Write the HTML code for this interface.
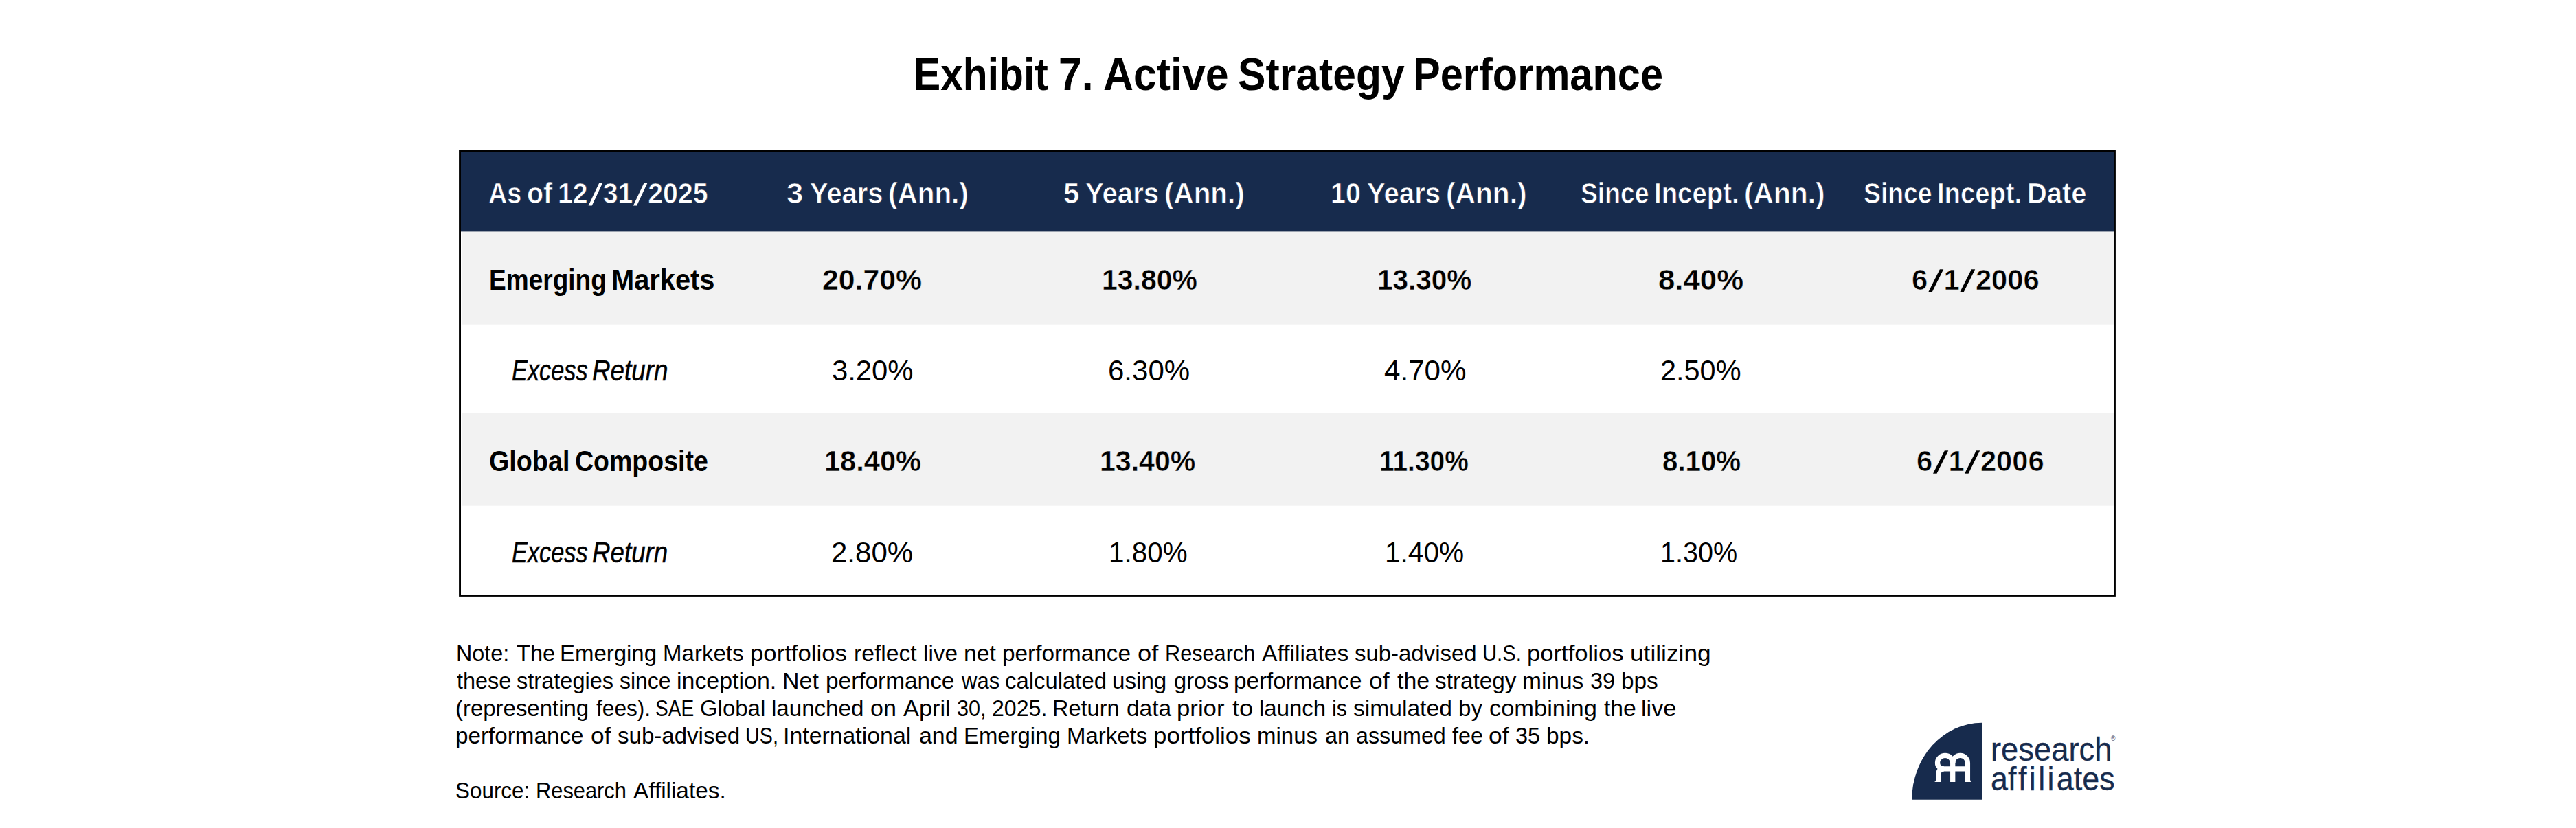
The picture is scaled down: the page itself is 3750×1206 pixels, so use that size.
<!DOCTYPE html>
<html lang="en">
<head>
<meta charset="utf-8">
<title>Exhibit 7. Active Strategy Performance</title>
<style>
html,body{margin:0;padding:0;background:#fff;}
body{width:3750px;height:1206px;position:relative;font-family:"Liberation Sans",Arial,sans-serif;}
.t{position:absolute;white-space:nowrap;line-height:1;transform-origin:0 0;font-size:42.6px;font-family:"Liberation Sans",Arial,sans-serif;}
.g{margin:0;padding:0;}
.sl{display:inline-block;font-style:normal;font-weight:400;margin:0 .14em;transform:translateY(.06em) scale(2.05,1.1)}
.tbl{position:absolute;left:660px;top:210px;width:2430px;height:670px;}
.logo{position:absolute;left:2780px;top:1050px;width:110px;height:118px;}
</style>
</head>
<body>
<svg class="tbl" viewBox="660 210 2430 670">
<rect x="672.1" y="330" width="2404.8" height="142.7" fill="#F2F2F2"/>
<rect x="670" y="220" width="2407.5" height="117.4" fill="#172B4D"/>
<rect x="672.1" y="601.9" width="2404.8" height="134.8" fill="#F2F2F2"/>
<rect x="669.55" y="219.85" width="2408.9" height="647.6" fill="none" stroke="#000" stroke-width="2.9"/>
</svg>
<svg class="logo" viewBox="2780 1050 110 118">
<path d="M2885 1052.8 L2885 1164.7 L2783.2 1164.7 A101.8 111.9 0 0 1 2885 1052.8 Z" fill="#172B4D"/>
<g fill="none" stroke="#fff" stroke-width="7.3" stroke-linejoin="round">
<path d="M2842.7 1139 L2842.7 1109"/>
<path d="M2842.7 1111.2 A10.85 10.85 0 0 1 2864.4 1111.2 L2864.4 1139"/>
<path d="M2842.7 1111.2 A11.1 10.85 0 0 0 2820.5 1111.2 A8.6 8.6 0 0 0 2829.1 1119.8 L2864.4 1119.8"/>
<path d="M2830 1119.8 Q2821.8 1119.8 2821.8 1128.5 L2821.8 1139"/>
</g>
<path d="M2818.2 1139 L2816 1139 Q2818.2 1138.2 2818.2 1135.5 Z M2868 1139 L2869.8 1139 Q2868 1138.2 2868 1135.5 Z" fill="#fff"/>
</svg>
<div style="position:absolute;left:662px;top:445px;width:1px;height:4px;background:#c6c6cc"></div>
<div class="g title">
<span class="t" style="left:1330.38px;top:74.90px;font-size:66.7px;font-weight:700;transform:matrix(0.8807,0.0002,0,1,0,0)">Exhibit </span>
<span class="t" style="left:1541.39px;top:74.90px;font-size:66.7px;font-weight:700;transform:matrix(0.9075,0.0002,0,1,0,0)">7. </span>
<span class="t" style="left:1605.77px;top:74.90px;font-size:66.7px;font-weight:700;transform:matrix(0.9127,0.0002,0,1,0,0)">Active </span>
<span class="t" style="left:1802.48px;top:74.90px;font-size:66.7px;font-weight:700;transform:matrix(0.9096,0.0002,0,1,0,0)">Strategy </span>
<span class="t" style="left:2057.43px;top:74.90px;font-size:66.7px;font-weight:700;transform:matrix(0.8930,0.0002,0,1,0,0)">Performance </span>
</div>
<div class="g h">
<span class="t" style="left:711.12px;top:259.90px;font-size:42.8px;font-weight:700;color:#fff;-webkit-text-stroke:0.7px #172B4D;transform:matrix(0.8837,0.0002,0,1,0,0)">As </span>
<span class="t" style="left:767.38px;top:259.90px;font-size:42.8px;font-weight:700;color:#fff;-webkit-text-stroke:0.7px #172B4D;transform:matrix(0.9212,0.0002,0,1,0,0)">of </span>
<span class="t" style="left:811.96px;top:259.90px;font-size:42.8px;font-weight:700;color:#fff;-webkit-text-stroke:0.7px #172B4D;transform:matrix(0.9183,0.0002,0,1,0,0)">12<i class="sl">/</i>31<i class="sl">/</i>2025 </span>
<span class="t" style="left:1145.48px;top:259.90px;font-size:42.8px;font-weight:700;color:#fff;-webkit-text-stroke:0.7px #172B4D;transform:matrix(1.0183,0.0002,0,1,0,0)">3 </span>
<span class="t" style="left:1178.97px;top:259.90px;font-size:42.8px;font-weight:700;color:#fff;-webkit-text-stroke:0.7px #172B4D;transform:matrix(0.9323,0.0002,0,1,0,0)">Years </span>
<span class="t" style="left:1292.91px;top:259.90px;font-size:42.8px;font-weight:700;color:#fff;-webkit-text-stroke:0.7px #172B4D;transform:matrix(0.9450,0.0002,0,1,0,0)">(Ann.) </span>
<span class="t" style="left:1547.92px;top:259.90px;font-size:42.8px;font-weight:700;color:#fff;-webkit-text-stroke:0.7px #172B4D;transform:matrix(0.9786,0.0002,0,1,0,0)">5 </span>
<span class="t" style="left:1580.06px;top:259.90px;font-size:42.8px;font-weight:700;color:#fff;-webkit-text-stroke:0.7px #172B4D;transform:matrix(0.9372,0.0002,0,1,0,0)">Years </span>
<span class="t" style="left:1694.61px;top:259.90px;font-size:42.8px;font-weight:700;color:#fff;-webkit-text-stroke:0.7px #172B4D;transform:matrix(0.9442,0.0002,0,1,0,0)">(Ann.) </span>
<span class="t" style="left:1937.26px;top:259.90px;font-size:42.8px;font-weight:700;color:#fff;-webkit-text-stroke:0.7px #172B4D;transform:matrix(0.9223,0.0002,0,1,0,0)">10 </span>
<span class="t" style="left:1990.36px;top:259.90px;font-size:42.8px;font-weight:700;color:#fff;-webkit-text-stroke:0.7px #172B4D;transform:matrix(0.9372,0.0002,0,1,0,0)">Years </span>
<span class="t" style="left:2104.90px;top:259.90px;font-size:42.8px;font-weight:700;color:#fff;-webkit-text-stroke:0.7px #172B4D;transform:matrix(0.9508,0.0002,0,1,0,0)">(Ann.) </span>
<span class="t" style="left:2301.13px;top:259.90px;font-size:42.8px;font-weight:700;color:#fff;-webkit-text-stroke:0.7px #172B4D;transform:matrix(0.8711,0.0002,0,1,0,0)">Since </span>
<span class="t" style="left:2407.51px;top:259.90px;font-size:42.8px;font-weight:700;color:#fff;-webkit-text-stroke:0.7px #172B4D;transform:matrix(0.8958,0.0002,0,1,0,0)">Incept. </span>
<span class="t" style="left:2539.00px;top:259.90px;font-size:42.8px;font-weight:700;color:#fff;-webkit-text-stroke:0.7px #172B4D;transform:matrix(0.9508,0.0002,0,1,0,0)">(Ann.) </span>
<span class="t" style="left:2713.03px;top:259.90px;font-size:42.8px;font-weight:700;color:#fff;-webkit-text-stroke:0.7px #172B4D;transform:matrix(0.8727,0.0002,0,1,0,0)">Since </span>
<span class="t" style="left:2819.61px;top:259.90px;font-size:42.8px;font-weight:700;color:#fff;-webkit-text-stroke:0.7px #172B4D;transform:matrix(0.8931,0.0002,0,1,0,0)">Incept. </span>
<span class="t" style="left:2950.73px;top:259.90px;font-size:42.8px;font-weight:700;color:#fff;-webkit-text-stroke:0.7px #172B4D;transform:matrix(0.9333,0.0002,0,1,0,0)">Date </span>
</div>
<div class="g r1">
<span class="t" style="left:711.86px;top:386.20px;font-weight:700;transform:matrix(0.8696,0.0002,0,1,0,0)">Emerging </span>
<span class="t" style="left:890.33px;top:386.20px;font-weight:700;transform:matrix(0.9344,0.0002,0,1,0,0)">Markets </span>
<span class="t" style="left:1196.80px;top:386.20px;font-weight:700;-webkit-text-stroke:0.4px #F2F2F2;transform:matrix(1.0035,0.0002,0,1,0,0)">20.70% </span>
<span class="t" style="left:1604.08px;top:386.20px;font-weight:700;-webkit-text-stroke:0.4px #F2F2F2;transform:matrix(0.9613,0.0002,0,1,0,0)">13.80% </span>
<span class="t" style="left:2004.90px;top:386.20px;font-weight:700;-webkit-text-stroke:0.4px #F2F2F2;transform:matrix(0.9507,0.0002,0,1,0,0)">13.30% </span>
<span class="t" style="left:2414.27px;top:386.20px;font-weight:700;-webkit-text-stroke:0.4px #F2F2F2;transform:matrix(1.0277,0.0002,0,1,0,0)">8.40% </span>
<span class="t" style="left:2783.42px;top:386.20px;font-weight:700;-webkit-text-stroke:0.6px #F2F2F2;transform:matrix(0.9791,0.0002,0,1,0,0)">6<i class="sl">/</i>1<i class="sl">/</i>2006 </span>
</div>
<div class="g r2">
<span class="t" style="left:744.59px;top:518.00px;font-style:italic;-webkit-text-stroke:0.5px #000;transform:matrix(0.8055,0.0002,0,1,0,0)">Excess </span>
<span class="t" style="left:862.34px;top:518.00px;font-style:italic;-webkit-text-stroke:0.5px #000;transform:matrix(0.8648,0.0002,0,1,0,0)">Return </span>
<span class="t" style="left:1210.54px;top:518.00px;transform:matrix(0.9814,0.0002,0,1,0,0)">3.20% </span>
<span class="t" style="left:1613.23px;top:518.00px;transform:matrix(0.9864,0.0002,0,1,0,0)">6.30% </span>
<span class="t" style="left:2015.41px;top:518.00px;transform:matrix(0.9891,0.0002,0,1,0,0)">4.70% </span>
<span class="t" style="left:2416.55px;top:518.00px;transform:matrix(0.9729,0.0002,0,1,0,0)">2.50% </span>
</div>
<div class="g r3">
<span class="t" style="left:711.91px;top:650.30px;font-weight:700;transform:matrix(0.8857,0.0002,0,1,0,0)">Global </span>
<span class="t" style="left:837.22px;top:650.30px;font-weight:700;transform:matrix(0.8803,0.0002,0,1,0,0)">Composite </span>
<span class="t" style="left:1199.75px;top:650.30px;font-weight:700;-webkit-text-stroke:0.4px #F2F2F2;transform:matrix(0.9761,0.0002,0,1,0,0)">18.40% </span>
<span class="t" style="left:1601.27px;top:650.30px;font-weight:700;-webkit-text-stroke:0.4px #F2F2F2;transform:matrix(0.9641,0.0002,0,1,0,0)">13.40% </span>
<span class="t" style="left:2008.37px;top:650.30px;font-weight:700;-webkit-text-stroke:0.4px #F2F2F2;transform:matrix(0.9129,0.0002,0,1,0,0)">11.30% </span>
<span class="t" style="left:2419.85px;top:650.30px;font-weight:700;-webkit-text-stroke:0.4px #F2F2F2;transform:matrix(0.9454,0.0002,0,1,0,0)">8.10% </span>
<span class="t" style="left:2789.52px;top:650.30px;font-weight:700;-webkit-text-stroke:0.6px #F2F2F2;transform:matrix(0.9786,0.0002,0,1,0,0)">6<i class="sl">/</i>1<i class="sl">/</i>2006 </span>
</div>
<div class="g r4">
<span class="t" style="left:744.59px;top:783.00px;font-style:italic;-webkit-text-stroke:0.5px #000;transform:matrix(0.8055,0.0002,0,1,0,0)">Excess </span>
<span class="t" style="left:862.34px;top:783.00px;font-style:italic;-webkit-text-stroke:0.5px #000;transform:matrix(0.8624,0.0002,0,1,0,0)">Return </span>
<span class="t" style="left:1209.73px;top:783.00px;transform:matrix(0.9864,0.0002,0,1,0,0)">2.80% </span>
<span class="t" style="left:1613.55px;top:783.00px;transform:matrix(0.9487,0.0002,0,1,0,0)">1.80% </span>
<span class="t" style="left:2015.64px;top:783.00px;transform:matrix(0.9530,0.0002,0,1,0,0)">1.40% </span>
<span class="t" style="left:2416.82px;top:783.00px;transform:matrix(0.9282,0.0002,0,1,0,0)">1.30% </span>
</div>
<div class="g n1">
<span class="t" style="left:663.58px;top:935.00px;font-size:33.7px;transform:matrix(0.9600,0.0002,0,1,0,0)">Note: </span>
<span class="t" style="left:751.80px;top:935.00px;font-size:33.7px;transform:matrix(0.9669,0.0002,0,1,0,0)">The </span>
<span class="t" style="left:815.04px;top:935.00px;font-size:33.7px;transform:matrix(0.9781,0.0002,0,1,0,0)">Emerging </span>
<span class="t" style="left:965.24px;top:935.00px;font-size:33.7px;transform:matrix(0.9808,0.0002,0,1,0,0)">Markets </span>
<span class="t" style="left:1091.84px;top:935.00px;font-size:33.7px;transform:matrix(1.0310,0.0002,0,1,0,0)">portfolios </span>
<span class="t" style="left:1242.50px;top:935.00px;font-size:33.7px;transform:matrix(0.9988,0.0002,0,1,0,0)">reflect </span>
<span class="t" style="left:1343.52px;top:935.00px;font-size:33.7px;transform:matrix(0.9878,0.0002,0,1,0,0)">live </span>
<span class="t" style="left:1402.70px;top:935.00px;font-size:33.7px;transform:matrix(0.9980,0.0002,0,1,0,0)">net </span>
<span class="t" style="left:1458.82px;top:935.00px;font-size:33.7px;transform:matrix(0.9889,0.0002,0,1,0,0)">performance </span>
<span class="t" style="left:1656.02px;top:935.00px;font-size:33.7px;transform:matrix(1.0780,0.0002,0,1,0,0)">of </span>
<span class="t" style="left:1695.68px;top:935.00px;font-size:33.7px;transform:matrix(0.9104,0.0002,0,1,0,0)">Research </span>
<span class="t" style="left:1837.30px;top:935.00px;font-size:33.7px;transform:matrix(0.9972,0.0002,0,1,0,0)">Affiliates </span>
<span class="t" style="left:1972.02px;top:935.00px;font-size:33.7px;transform:matrix(0.9774,0.0002,0,1,0,0)">sub-advised </span>
<span class="t" style="left:2157.97px;top:935.00px;font-size:33.7px;transform:matrix(0.8665,0.0002,0,1,0,0)">U.S. </span>
<span class="t" style="left:2222.54px;top:935.00px;font-size:33.7px;transform:matrix(1.0276,0.0002,0,1,0,0)">portfolios </span>
<span class="t" style="left:2372.61px;top:935.00px;font-size:33.7px;transform:matrix(1.0472,0.0002,0,1,0,0)">utilizing </span>
</div>
<div class="g n2">
<span class="t" style="left:664.60px;top:974.70px;font-size:33.7px;transform:matrix(0.9620,0.0002,0,1,0,0)">these </span>
<span class="t" style="left:751.93px;top:974.70px;font-size:33.7px;transform:matrix(0.9663,0.0002,0,1,0,0)">strategies </span>
<span class="t" style="left:902.15px;top:974.70px;font-size:33.7px;transform:matrix(0.9486,0.0002,0,1,0,0)">since </span>
<span class="t" style="left:984.59px;top:974.70px;font-size:33.7px;transform:matrix(1.0066,0.0002,0,1,0,0)">inception. </span>
<span class="t" style="left:1139.18px;top:974.70px;font-size:33.7px;transform:matrix(1.0080,0.0002,0,1,0,0)">Net </span>
<span class="t" style="left:1201.52px;top:974.70px;font-size:33.7px;transform:matrix(0.9910,0.0002,0,1,0,0)">performance </span>
<span class="t" style="left:1400.20px;top:974.70px;font-size:33.7px;transform:matrix(0.9208,0.0002,0,1,0,0)">was </span>
<span class="t" style="left:1463.02px;top:974.70px;font-size:33.7px;transform:matrix(0.9753,0.0002,0,1,0,0)">calculated </span>
<span class="t" style="left:1619.13px;top:974.70px;font-size:33.7px;transform:matrix(0.9843,0.0002,0,1,0,0)">using </span>
<span class="t" style="left:1708.63px;top:974.70px;font-size:33.7px;transform:matrix(0.9678,0.0002,0,1,0,0)">gross </span>
<span class="t" style="left:1796.43px;top:974.70px;font-size:33.7px;transform:matrix(0.9859,0.0002,0,1,0,0)">performance </span>
<span class="t" style="left:1993.05px;top:974.70px;font-size:33.7px;transform:matrix(1.0513,0.0002,0,1,0,0)">of </span>
<span class="t" style="left:2033.50px;top:974.70px;font-size:33.7px;transform:matrix(1.0051,0.0002,0,1,0,0)">the </span>
<span class="t" style="left:2089.01px;top:974.70px;font-size:33.7px;transform:matrix(0.9883,0.0002,0,1,0,0)">strategy </span>
<span class="t" style="left:2215.71px;top:974.70px;font-size:33.7px;transform:matrix(0.9945,0.0002,0,1,0,0)">minus </span>
<span class="t" style="left:2315.44px;top:974.70px;font-size:33.7px;transform:matrix(0.9647,0.0002,0,1,0,0)">39 </span>
<span class="t" style="left:2359.62px;top:974.70px;font-size:33.7px;transform:matrix(0.9902,0.0002,0,1,0,0)">bps </span>
</div>
<div class="g n3">
<span class="t" style="left:662.84px;top:1014.80px;font-size:33.7px;transform:matrix(0.9780,0.0002,0,1,0,0)">(representing </span>
<span class="t" style="left:868.10px;top:1014.80px;font-size:33.7px;transform:matrix(0.9388,0.0002,0,1,0,0)">fees). </span>
<span class="t" style="left:954.33px;top:1014.80px;font-size:33.7px;transform:matrix(0.8347,0.0002,0,1,0,0)">SAE </span>
<span class="t" style="left:1019.12px;top:1014.80px;font-size:33.7px;transform:matrix(0.9779,0.0002,0,1,0,0)">Global </span>
<span class="t" style="left:1122.54px;top:1014.80px;font-size:33.7px;transform:matrix(0.9821,0.0002,0,1,0,0)">launched </span>
<span class="t" style="left:1266.99px;top:1014.80px;font-size:33.7px;transform:matrix(1.0095,0.0002,0,1,0,0)">on </span>
<span class="t" style="left:1315.30px;top:1014.80px;font-size:33.7px;transform:matrix(1.0199,0.0002,0,1,0,0)">April </span>
<span class="t" style="left:1392.69px;top:1014.80px;font-size:33.7px;transform:matrix(0.9091,0.0002,0,1,0,0)">30, </span>
<span class="t" style="left:1443.75px;top:1014.80px;font-size:33.7px;transform:matrix(0.9532,0.0002,0,1,0,0)">2025. </span>
<span class="t" style="left:1532.07px;top:1014.80px;font-size:33.7px;transform:matrix(0.9657,0.0002,0,1,0,0)">Return </span>
<span class="t" style="left:1639.71px;top:1014.80px;font-size:33.7px;transform:matrix(0.9940,0.0002,0,1,0,0)">data </span>
<span class="t" style="left:1713.14px;top:1014.80px;font-size:33.7px;transform:matrix(1.0316,0.0002,0,1,0,0)">prior </span>
<span class="t" style="left:1794.40px;top:1014.80px;font-size:33.7px;transform:matrix(1.0780,0.0002,0,1,0,0)">to </span>
<span class="t" style="left:1832.85px;top:1014.80px;font-size:33.7px;transform:matrix(0.9775,0.0002,0,1,0,0)">launch </span>
<span class="t" style="left:1939.20px;top:1014.80px;font-size:33.7px;transform:matrix(0.9022,0.0002,0,1,0,0)">is </span>
<span class="t" style="left:1970.40px;top:1014.80px;font-size:33.7px;transform:matrix(0.9977,0.0002,0,1,0,0)">simulated </span>
<span class="t" style="left:2122.64px;top:1014.80px;font-size:33.7px;transform:matrix(0.9808,0.0002,0,1,0,0)">by </span>
<span class="t" style="left:2167.68px;top:1014.80px;font-size:33.7px;transform:matrix(1.0219,0.0002,0,1,0,0)">combining </span>
<span class="t" style="left:2335.20px;top:1014.80px;font-size:33.7px;transform:matrix(0.9998,0.0002,0,1,0,0)">the </span>
<span class="t" style="left:2389.37px;top:1014.80px;font-size:33.7px;transform:matrix(1.0170,0.0002,0,1,0,0)">live </span>
</div>
<div class="g n4">
<span class="t" style="left:662.83px;top:1054.60px;font-size:33.7px;transform:matrix(0.9864,0.0002,0,1,0,0)">performance </span>
<span class="t" style="left:859.55px;top:1054.60px;font-size:33.7px;transform:matrix(1.0459,0.0002,0,1,0,0)">of </span>
<span class="t" style="left:898.82px;top:1054.60px;font-size:33.7px;transform:matrix(0.9810,0.0002,0,1,0,0)">sub-advised </span>
<span class="t" style="left:1085.49px;top:1054.60px;font-size:33.7px;transform:matrix(0.8529,0.0002,0,1,0,0)">US, </span>
<span class="t" style="left:1140.09px;top:1054.60px;font-size:33.7px;transform:matrix(1.0047,0.0002,0,1,0,0)">International </span>
<span class="t" style="left:1337.80px;top:1054.60px;font-size:33.7px;transform:matrix(1.0048,0.0002,0,1,0,0)">and </span>
<span class="t" style="left:1402.75px;top:1054.60px;font-size:33.7px;transform:matrix(0.9762,0.0002,0,1,0,0)">Emerging </span>
<span class="t" style="left:1552.64px;top:1054.60px;font-size:33.7px;transform:matrix(0.9785,0.0002,0,1,0,0)">Markets </span>
<span class="t" style="left:1678.93px;top:1054.60px;font-size:33.7px;transform:matrix(1.0358,0.0002,0,1,0,0)">portfolios </span>
<span class="t" style="left:1830.34px;top:1054.60px;font-size:33.7px;transform:matrix(0.9794,0.0002,0,1,0,0)">minus </span>
<span class="t" style="left:1928.54px;top:1054.60px;font-size:33.7px;transform:matrix(0.9605,0.0002,0,1,0,0)">an </span>
<span class="t" style="left:1973.54px;top:1054.60px;font-size:33.7px;transform:matrix(0.9564,0.0002,0,1,0,0)">assumed </span>
<span class="t" style="left:2114.20px;top:1054.60px;font-size:33.7px;transform:matrix(0.9589,0.0002,0,1,0,0)">fee </span>
<span class="t" style="left:2167.05px;top:1054.60px;font-size:33.7px;transform:matrix(1.0486,0.0002,0,1,0,0)">of </span>
<span class="t" style="left:2206.44px;top:1054.60px;font-size:33.7px;transform:matrix(0.9647,0.0002,0,1,0,0)">35 </span>
<span class="t" style="left:2250.62px;top:1054.60px;font-size:33.7px;transform:matrix(0.9915,0.0002,0,1,0,0)">bps. </span>
</div>
<div class="g n5">
<span class="t" style="left:662.74px;top:1134.70px;font-size:33.7px;transform:matrix(0.9324,0.0002,0,1,0,0)">Source: </span>
<span class="t" style="left:779.77px;top:1134.70px;font-size:33.7px;transform:matrix(0.9150,0.0002,0,1,0,0)">Research </span>
<span class="t" style="left:922.10px;top:1134.70px;font-size:33.7px;transform:matrix(0.9895,0.0002,0,1,0,0)">Affiliates. </span>
</div>
<div class="g lg">
<span class="t" style="left:2897.80px;top:1067.10px;font-size:48.5px;color:#172B4D;-webkit-text-stroke:0.3px #172B4D;transform:matrix(0.9350,0.0002,0,1,0,0)">research </span>
<span class="t" style="left:2898.05px;top:1109.50px;font-size:48.5px;color:#172B4D;-webkit-text-stroke:0.3px #172B4D;transform:matrix(0.9250,0.0002,0,1,0,0)">a<span style="letter-spacing:.075em">ffili</span>ates </span>
<span class="t" style="left:3073.10px;top:1070.74px;font-size:10.2px;color:#4a5872;transform:matrix(0.8688,0.0002,0,1,0,0)">® </span>
</div>
</body>
</html>
